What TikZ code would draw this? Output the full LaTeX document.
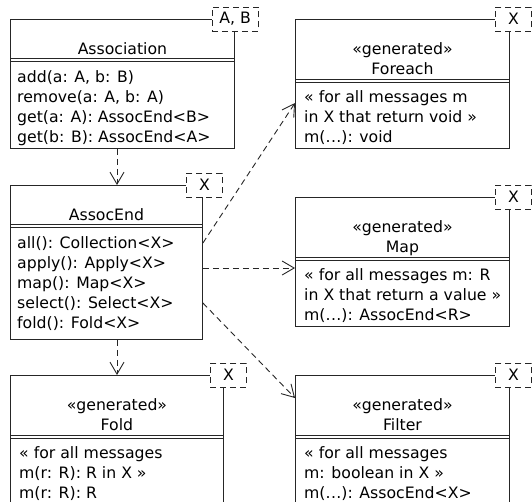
\documentclass[tikz,border=0pt]{standalone}
\usepackage{fontspec}
\setmainfont{DejaVu Sans}
\usetikzlibrary{arrows.meta}

\newcommand\umlfont{\fontsize{15.7pt}{20pt}\selectfont}
\newcommand\threedots{.\kern0.4pt.\kern0.4pt.}

\tikzset{
  umlline/.style={draw=black!85, line width=0.9pt},
  classbox/.style={umlline, rectangle, inner sep=0pt, anchor=north west, fill=white},
  tparam/.style={draw=black!85, line width=0.9pt, dash pattern=on 6pt off 4pt,
    fill=white, minimum width=36pt, minimum height=24pt, inner xsep=7.5pt,
    inner ysep=0pt, anchor=east, font=\umlfont},
  txt/.style={inner sep=0pt, font=\umlfont, text=black},
  dep/.style={draw=black!85, line width=0.9pt, dash pattern=on 6pt off 4pt,
    -{Straight Barb[length=12pt,width=14pt]}},
}

% class with a single name line: name, double divider, operations
\newcommand\plainclass[3]{% #1 node, #2 name, #3 operations
  \node[txt, anchor=base] (#1-name) at ([yshift=-35pt]#1.north) {#2};
  \draw[umlline] ([yshift=-39pt]#1.north west) -- ([yshift=-39pt]#1.north east);
  \draw[umlline] ([yshift=-42pt]#1.north west) -- ([yshift=-42pt]#1.north east);
  \foreach \t [count=\i from 0] in {#3}
    \node[txt, anchor=base west] (#1-op\i) at ([xshift=7pt, yshift=-63pt-20pt*\i]#1.north west) {\t};
}
% generated class: stereotype and name, double divider, operations
\newcommand\genclass[3]{% #1 node, #2 name, #3 operations
  \node[txt, anchor=base] (#1-stereo) at ([yshift=-35pt]#1.north) {«generated»};
  \node[txt, anchor=base] (#1-name) at ([yshift=-55pt]#1.north) {#2};
  \draw[umlline] ([yshift=-60pt]#1.north west) -- ([yshift=-60pt]#1.north east);
  \draw[umlline] ([yshift=-63pt]#1.north west) -- ([yshift=-63pt]#1.north east);
  \foreach \t [count=\i from 0] in {#3}
    \node[txt, anchor=base west] (#1-op\i) at ([xshift=9pt, yshift=-83pt-20pt*\i]#1.north west) {\t};
}

\begin{document}
\begin{tikzpicture}[x=1pt, y=-1pt]
  \useasboundingbox (0,0) rectangle (532,501);
  \clip (0,0) rectangle (532,501);

  % class frames
  \node[classbox, minimum width=224pt, minimum height=129pt] (assoc)    at (10,19)  {};
  \node[classbox, minimum width=192pt, minimum height=154pt] (assocend) at (10,185) {};
  \node[classbox, minimum width=213pt, minimum height=150pt] (fold)     at (10,375) {};
  \node[classbox, minimum width=214pt, minimum height=129pt] (foreach)  at (295,19) {};
  \node[classbox, minimum width=214pt, minimum height=129pt] (map)      at (295,197) {};
  \node[classbox, minimum width=214pt, minimum height=150pt] (filter)   at (295,375) {};

  % compartments
  \plainclass{assoc}{Association}{{add(a: A, b: B)},{remove(a: A, b: A)},{get(a: A): AssocEnd<B>},{get(b: B): AssocEnd<A>}}
  \plainclass{assocend}{AssocEnd}{{all(): Collection<X>},{apply(): Apply<X>},{map(): Map<X>},{select(): Select<X>},{fold(): Fold<X>}}
  \genclass{foreach}{Foreach}{{« for all messages m},{in X that return void »},{m(\threedots): void}}
  \genclass{map}{Map}{{« for all messages m: R},{in X that return a value »},{m(\threedots): AssocEnd<R>}}
  \genclass{fold}{Fold}{{« for all messages},{m(r: R): R in X »},{m(r: R): R}}
  \genclass{filter}{Filter}{{« for all messages},{m: boolean in X »},{m(\threedots): AssocEnd<X>}}

  % template parameters
  \node[tparam] (assoc-t)    at ([xshift=24pt]assoc.north east)    {A, B};
  \node[tparam] (assocend-t) at ([xshift=20pt]assocend.north east) {X};
  \node[tparam] (fold-t)     at ([xshift=23pt]fold.north east)     {X};
  \node[tparam] (foreach-t)  at ([xshift=22pt]foreach.north east)  {X};
  \node[tparam] (map-t)      at ([xshift=22pt]map.north east)      {X};
  \node[tparam] (filter-t)   at ([xshift=22pt]filter.north east)   {X};

  % dependencies
  \draw[dep] ([xshift=107pt]assoc.south west) -- ([xshift=107pt]assocend.north west);
  \draw[dep] ([xshift=107pt]assocend.south west) -- ([xshift=107pt]fold.north west);
  \draw[dep] ([yshift=-58pt]assocend.north east) -- ([yshift=-84pt]foreach.north west);
  \draw[dep] ([yshift=-83pt]assocend.north east) -- ([yshift=-71pt]map.north west);
  \draw[dep] ([yshift=-118pt]assocend.north east) -- ([yshift=-23pt]filter.north west);
\end{tikzpicture}
\end{document}
